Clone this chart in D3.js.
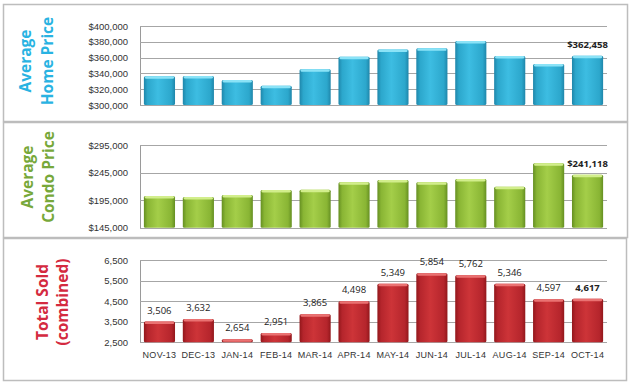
<!DOCTYPE html>
<html lang="en">
<head>
<meta charset="UTF-8">
<title>Market summary</title>
<script src="https://d3js.org/d3.v7.min.js"></script>
<style>
  body { margin: 0; background: #fff; }
  svg { display: block; font-family: "Open Sans", "Liberation Sans", sans-serif; }
</style>
</head>
<body>
<div id="chart"></div>
<script>
// data
const months = ["NOV-13","DEC-13","JAN-14","FEB-14","MAR-14","APR-14","MAY-14","JUN-14","JUL-14","AUG-14","SEP-14","OCT-14"];
const homePrice = [336300, 336700, 331600, 324400, 345200, 361100, 370400, 371700, 381000, 362000, 351900, 362458];
const condoPrice = [202500, 200700, 204300, 213400, 214000, 227300, 231500, 227300, 233300, 219400, 261800, 241118];
const totalSold = [3506, 3632, 2654, 2951, 3865, 4498, 5349, 5854, 5762, 5346, 4597, 4617];
const homeTicks = [300000, 320000, 340000, 360000, 380000, 400000];
const condoTicks = [145000, 195000, 245000, 295000];
const soldTicks = [2500, 3500, 4500, 5500, 6500];

const W = 630, H = 385;
const svg = d3.select("#chart").append("svg").attr("width", W).attr("height", H);
const defs = svg.append("defs");

const x = d3.scaleBand().domain(months).range([140, 607]).paddingInner(0.2).paddingOuter(0.1);

// panel setup
const panels = [
  { id: "home", box: [3, 4, 624, 117], values: homePrice, ticks: homeTicks, y0: 105, y1: 26,
    title: ["Average", "Home Price"], tx: [25, 47], ty: 61, tcol: "#29b3e2",
    fmt: d => "$" + d3.format(",")(d), labels: "last",
    cols: ["#1f86aa", "#3dbde2", "#2ca7cc", "#8be3f7"] },
  { id: "condo", box: [3, 122, 624, 115], values: condoPrice, ticks: condoTicks, y0: 227.7, y1: 145,
    title: ["Average", "Condo Price"], tx: [27, 48], ty: 177, tcol: "#77a83a",
    fmt: d => "$" + d3.format(",")(d), labels: "last",
    cols: ["#658f22", "#a4ce49", "#89b534", "#d2ee8c"] },
  { id: "sold", box: [3, 238, 623, 142], values: totalSold, ticks: soldTicks, y0: 342.3, y1: 260,
    title: ["Total Sold", "(combined)"], tx: [42, 62], ty: 302, tcol: "#d42a40",
    fmt: d3.format(","), labels: "all",
    cols: ["#92171b", "#cd3438", "#b5252c", "#ea7272"] }
];

panels.forEach(p => {
  const g = svg.append("g");
  g.append("rect")
    .attr("x", p.box[0] + 0.5).attr("y", p.box[1] + 0.5)
    .attr("width", p.box[2]).attr("height", p.box[3])
    .attr("fill", "#fff").attr("stroke", "#bdbdbd").attr("stroke-width", 1.5);

  const y = d3.scaleLinear().domain([p.ticks[0], p.ticks[p.ticks.length - 1]]).range([p.y0, p.y1]);

  // gradient for bars
  const grad = defs.append("linearGradient").attr("id", "g-" + p.id).attr("x1", 0).attr("x2", 1).attr("y1", 0).attr("y2", 0);
  grad.append("stop").attr("offset", "0%").attr("stop-color", p.cols[0]);
  grad.append("stop").attr("offset", "12%").attr("stop-color", p.cols[2]);
  grad.append("stop").attr("offset", "45%").attr("stop-color", p.cols[1]);
  grad.append("stop").attr("offset", "88%").attr("stop-color", p.cols[2]);
  grad.append("stop").attr("offset", "100%").attr("stop-color", p.cols[0]);

  // gridlines and ticks
  const axis = d3.axisLeft(y).tickValues(p.ticks).tickSize(0).tickPadding(12)
    .tickFormat(p.id === "sold" ? d3.format(",") : d => "$" + d3.format(",")(d));
  const ag = g.append("g").attr("transform", "translate(140,0)").call(axis);
  ag.select(".domain").attr("stroke", "#9a9a9a");
  ag.selectAll("text").attr("fill", "#333").attr("font-size", 9.5);

  g.append("g").selectAll("line").data(p.ticks).join("line")
    .attr("x1", 140).attr("x2", 607)
    .attr("y1", d => Math.round(y(d)) + 0.5).attr("y2", d => Math.round(y(d)) + 0.5)
    .attr("stroke", "#a6a6a6").attr("stroke-width", 1);

  // bars
  const bars = g.append("g").selectAll("g").data(p.values).join("g");
  bars.append("rect")
    .attr("x", (d, i) => x(months[i]))
    .attr("y", d => y(d))
    .attr("width", x.bandwidth())
    .attr("height", d => y(p.ticks[0]) - y(d))
    .attr("rx", 1.5)
    .attr("fill", "url(#g-" + p.id + ")");
  bars.append("rect")
    .attr("x", (d, i) => x(months[i]) + 1)
    .attr("y", d => y(d))
    .attr("width", x.bandwidth() - 2)
    .attr("height", 2.5)
    .attr("rx", 1.2)
    .attr("fill", p.cols[3]);

  // value labels
  const lab = p.values.map((v, i) => ({ v, i })).filter(d => p.labels === "all" || d.i === p.values.length - 1);
  g.append("g").selectAll("text").data(lab).join("text")
    .attr("x", d => x(months[d.i]) + x.bandwidth() / 2)
    .attr("y", d => y(d.v) - 8)
    .attr("text-anchor", "middle")
    .attr("font-size", 9.5)
    .attr("font-weight", d => d.i === p.values.length - 1 ? "bold" : "normal")
    .attr("fill", "#222")
    .text(d => p.fmt(d.v));

  // titles
  p.title.forEach((t, k) => {
    g.append("text")
      .attr("transform", `translate(${p.tx[k] + 6},${p.ty}) rotate(-90)`)
      .attr("text-anchor", "middle")
      .attr("font-size", 15.5)
      .attr("font-weight", "bold")
      .attr("fill", p.tcol)
      .text(t);
  });

  if (p.id === "sold") {
    const xa = d3.axisBottom(x).tickSize(0).tickPadding(9);
    const xg = g.append("g").attr("transform", `translate(0,${p.y0})`).call(xa);
    xg.select(".domain").remove();
    xg.selectAll("text").attr("fill", "#333").attr("font-size", 9).attr("letter-spacing", 0.3);
  }
});
</script>
</body>
</html>
